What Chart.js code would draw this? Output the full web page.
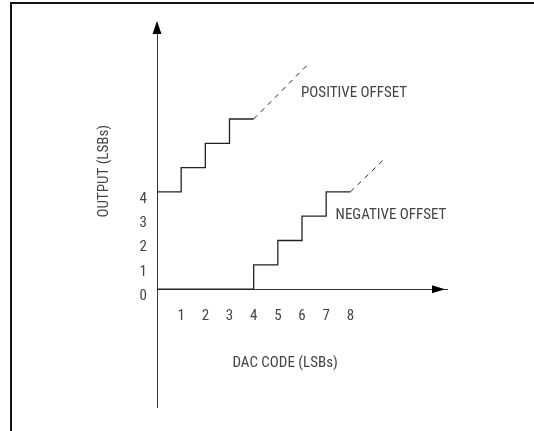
<!DOCTYPE html>
<html>
<head>
<meta charset="utf-8">
<script src="https://cdn.jsdelivr.net/npm/chart.js@4.4.0/dist/chart.umd.min.js"></script>
<style>
  body { margin: 0; background: #fff; }
  #wrap { position: relative; width: 534px; height: 431px; }
  #frame { position: absolute; left: 10px; top: 2px; right: 0; bottom: 0;
           border-left: 2px solid #111; border-top: 2px solid #111; }
  canvas { position: absolute; left: 0; top: 0; }
</style>
</head>
<body>
<div id="wrap">
  <div id="frame"></div>
  <canvas id="graph" width="534" height="431"></canvas>
</div>
<script>
// DAC transfer functions (LSBs)
const posCodes = [0, 1, 2, 3, 4];
const posOutput = [4, 5, 6, 7, 7];
const negCodes = [0, 4, 5, 6, 7, 8];
const negOutput = [0, 1, 2, 3, 4, 4];
// dashed continuations
const posDashCodes = [4, 6.3];
const posDashOutput = [7, 9.3];
const negDashCodes = [8, 9.35];
const negDashOutput = [4, 5.3];

const xTicks = [1, 2, 3, 4, 5, 6, 7, 8];
const yTicks = [0, 1, 2, 3, 4];

const FONT = '"Liberation Sans Narrow", "Roboto Condensed", "DejaVu Sans Condensed", "Liberation Sans", sans-serif';
const INK = '#222';
const TXT = '#444';

const pts = (xs, ys) => xs.map((x, i) => ({ x, y: ys[i] }));

// texts placed in data coordinates
const notes = [
  { text: 'POSITIVE OFFSET', x: 5.96, y: 8.05, align: 'left' },
  { text: 'NEGATIVE OFFSET', x: 7.39, y: 3.05, align: 'left' },
  { text: 'DAC CODE (LSBs)', x: 5.3, y: -3.04, align: 'center' },
  { text: 'OUTPUT (LSBs)', x: -2.19, y: 4.85, align: 'center', rotate: true }
];

const extras = {
  id: 'extras',
  afterDraw(chart) {
    const { ctx, scales: { x, y } } = chart;
    const x0 = x.getPixelForValue(0);
    const y0 = y.getPixelForValue(0);
    ctx.save();
    ctx.fillStyle = '#000';
    // arrow on y axis
    ctx.beginPath();
    ctx.moveTo(x0, y.top - 2);
    ctx.lineTo(x0 - 4.5, y.top + 11);
    ctx.lineTo(x0 + 4.5, y.top + 11);
    ctx.closePath();
    ctx.fill();
    // arrow on x axis
    ctx.beginPath();
    ctx.moveTo(x.right - 2, y0);
    ctx.lineTo(x.right - 15, y0 - 4);
    ctx.lineTo(x.right - 15, y0 + 4);
    ctx.closePath();
    ctx.fill();

    ctx.fillStyle = TXT;
    ctx.font = '15px ' + FONT;
    ctx.textBaseline = 'middle';
    notes.forEach(n => {
      const px = x.getPixelForValue(n.x);
      const py = y.getPixelForValue(n.y);
      ctx.save();
      ctx.translate(px, py);
      if (n.rotate) ctx.rotate(-Math.PI / 2);
      ctx.textAlign = n.align;
      ctx.fillText(n.text, 0, 0);
      ctx.restore();
    });
    ctx.restore();
  }
};

const ctx = document.getElementById('graph').getContext('2d');
new Chart(ctx, {
  type: 'scatter',
  data: {
    datasets: [
      { label: 'Positive offset', data: pts(posCodes, posOutput), stepped: true },
      { label: 'Negative offset', data: pts(negCodes, negOutput), stepped: true },
      { label: 'Positive ext', data: pts(posDashCodes, posDashOutput), borderDash: [5, 5], borderWidth: 1 },
      { label: 'Negative ext', data: pts(negDashCodes, negDashOutput), borderDash: [5, 5], borderWidth: 1 }
    ].map(d => Object.assign({
      showLine: true,
      borderColor: INK,
      borderWidth: 1.3,
      pointRadius: 0,
      fill: false
    }, d))
  },
  options: {
    responsive: false,
    animation: false,
    layout: { padding: { left: 137, right: 87, top: 23, bottom: 24 } },
    plugins: {
      legend: { display: false },
      tooltip: { enabled: false }
    },
    scales: {
      x: {
        type: 'linear',
        position: { y: 0 },
        min: 0,
        max: 12,
        grid: { display: false, drawTicks: false },
        border: { display: true, color: '#333', width: 1 },
        afterBuildTicks: s => { s.ticks = xTicks.map(v => ({ value: v })); },
        ticks: { color: TXT, font: { family: FONT, size: 15 }, padding: 18, autoSkip: false, maxRotation: 0 }
      },
      y: {
        type: 'linear',
        position: 'left',
        min: -4.85,
        max: 10.95,
        grid: { display: false, drawTicks: false },
        border: { display: true, color: '#333', width: 1 },
        afterBuildTicks: s => { s.ticks = yTicks.map(v => ({ value: v })); },
        afterFit: s => { s.width = 20; },
        ticks: { color: TXT, font: { family: FONT, size: 15 }, padding: 10, labelOffset: 7, autoSkip: false }
      }
    }
  },
  plugins: [extras]
});
</script>
</body>
</html>
